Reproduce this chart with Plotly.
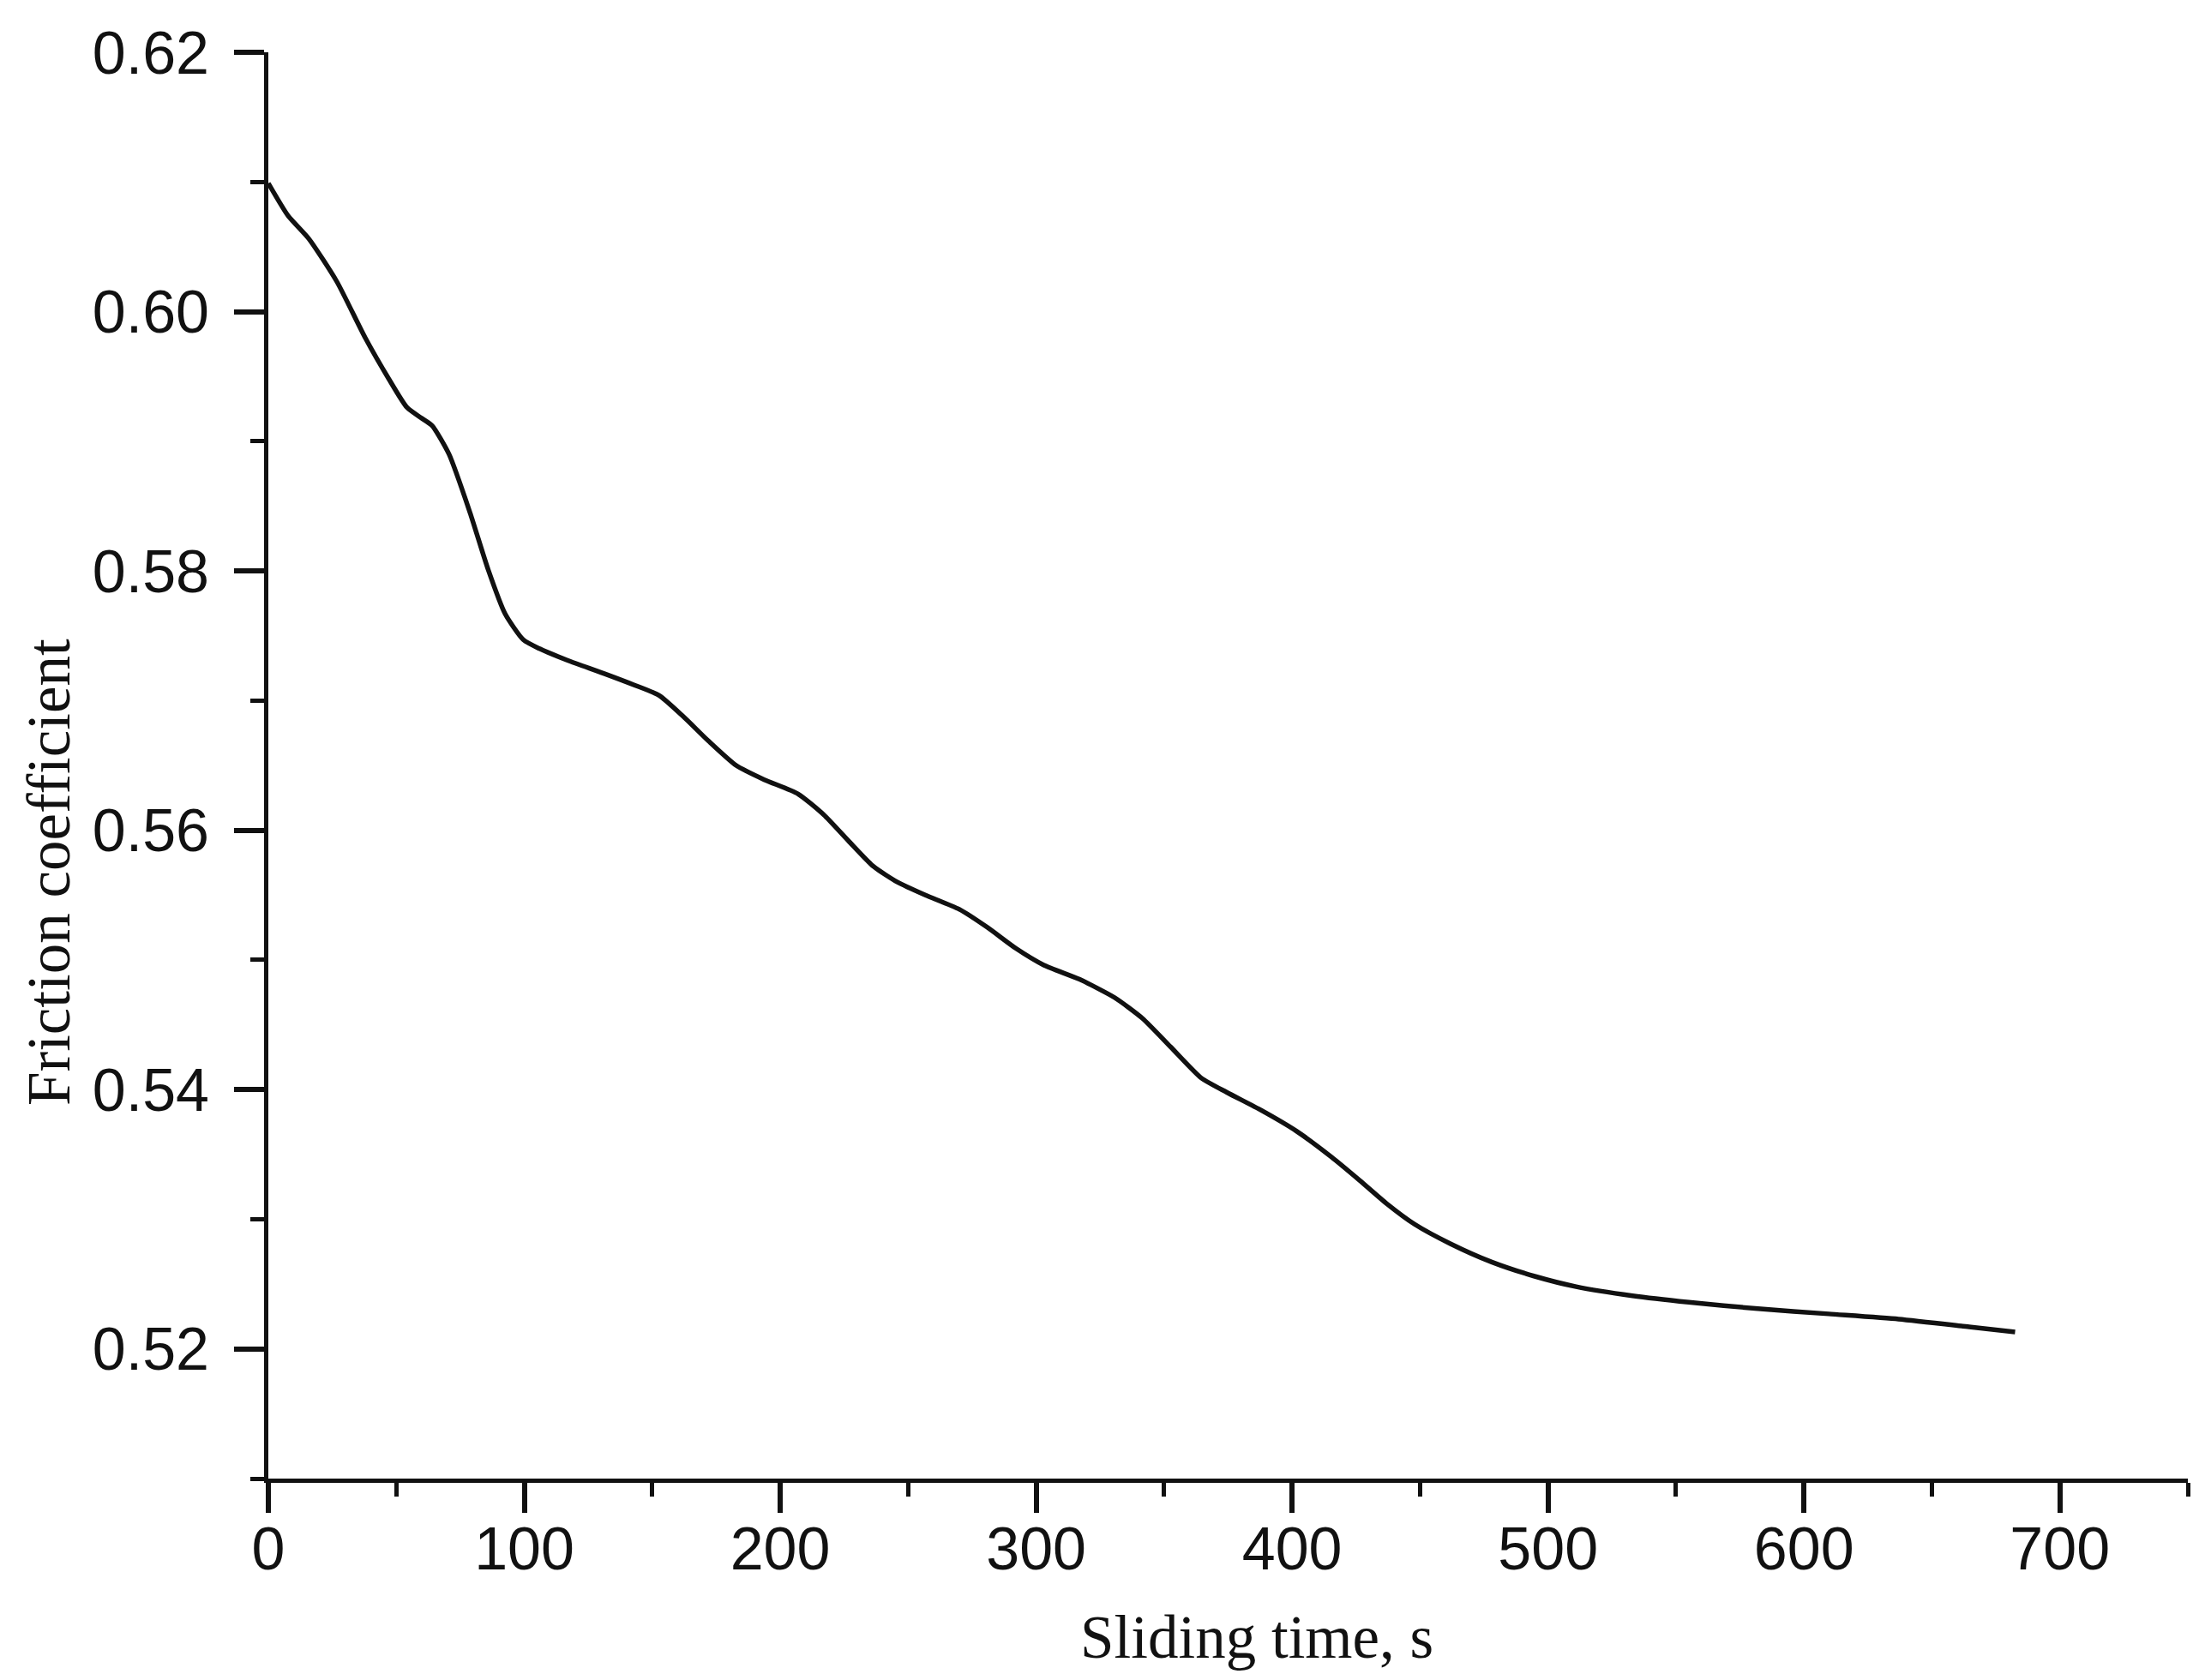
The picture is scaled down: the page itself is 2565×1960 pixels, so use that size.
import plotly.graph_objects as go

time_s = [0, 7.7, 15.9, 26.8, 37.8, 47.1, 54.2, 59.7, 64, 70.6, 78.8, 85.9, 92.5, 99.6,
          106, 117, 131, 143, 152.7, 162, 171.9, 182.8, 193.8, 207, 217, 226.6, 236.5,
          245.8, 256.7, 270, 281, 292, 303, 317, 330.6, 341.5, 352.5, 364.5, 374.4, 388,
          401.7, 415.4, 426.4, 437, 448, 462, 478, 494.8, 511, 533, 555, 582, 609.7, 637,
          664.5, 682.5]
friction = [0.6099, 0.6074, 0.6056, 0.6023, 0.5980, 0.5948, 0.5926, 0.5918, 0.5912, 0.5890,
            0.5845, 0.5801, 0.5767, 0.5747, 0.5740, 0.5731, 0.5721, 0.5712, 0.5704, 0.5688,
            0.5669, 0.5650, 0.5639, 0.5628, 0.5612, 0.5592, 0.5572, 0.5560, 0.5550, 0.5539,
            0.5525, 0.5509, 0.5496, 0.5485, 0.5471, 0.5455, 0.5433, 0.5409, 0.5398, 0.5384,
            0.5368, 0.5348, 0.5330, 0.5312, 0.5296, 0.5281, 0.5267, 0.5256, 0.5248, 0.5241,
            0.5236, 0.5231, 0.5227, 0.5223, 0.5217, 0.5213]

x_ticks = [0, 100, 200, 300, 400, 500, 600, 700]
y_ticks = [0.52, 0.54, 0.56, 0.58, 0.60, 0.62]
y_tick_labels = ["0.52", "0.54", "0.56", "0.58", "0.60", "0.62"]

W, H = 2565, 1960
L, R, T, B = 305, 21, 53, 243

fig = go.Figure()
fig.add_trace(go.Scatter(x=time_s, y=friction, mode="lines",
                         line=dict(color="#111111", width=5.5, shape="spline", smoothing=0.6),
                         showlegend=False))

tickfont = dict(family="Liberation Sans, Arial, sans-serif", size=70, color="#111111")
fig.update_layout(
    width=W, height=H,
    margin=dict(l=L, r=R, t=T, b=B),
    paper_bgcolor="white", plot_bgcolor="white",
    xaxis=dict(range=[0, 750], tickvals=x_ticks, ticktext=[str(v) for v in x_ticks],
               showgrid=False, zeroline=False, showline=True, linecolor="#111111", linewidth=5,
               ticks="outside", ticklen=35, tickwidth=6, tickcolor="#111111",
               minor=dict(dtick=50, tick0=0, ticks="outside", ticklen=16, tickwidth=5,
                          tickcolor="#111111", showgrid=False),
               tickfont=tickfont, ticklabelstandoff=-18),
    yaxis=dict(range=[0.51, 0.62], tickvals=y_ticks, ticktext=y_tick_labels,
               showgrid=False, zeroline=False, showline=True, linecolor="#111111", linewidth=5,
               ticks="outside", ticklen=35, tickwidth=6, tickcolor="#111111",
               minor=dict(dtick=0.01, tick0=0.51, ticks="outside", ticklen=16, tickwidth=5,
                          tickcolor="#111111", showgrid=False),
               tickfont=tickfont, ticklabelstandoff=15),
    annotations=[
        dict(text="Sliding time, s", xref="paper", yref="paper",
             x=(1458 - L) / (W - L - R), y=-(1902 - (H - B)) / (H - T - B),
             xanchor="center", yanchor="middle", showarrow=False,
             font=dict(family="Liberation Serif, Times New Roman, serif", size=71, color="#111111")),
        dict(text="Friction coefficient", xref="paper", yref="paper",
             x=(49 - L) / (W - L - R), y=((H - B) - 1010) / (H - T - B),
             xanchor="center", yanchor="middle", showarrow=False, textangle=-90,
             font=dict(family="Liberation Serif, Times New Roman, serif", size=71, color="#111111")),
    ],
)

fig.write_html("out.html")
